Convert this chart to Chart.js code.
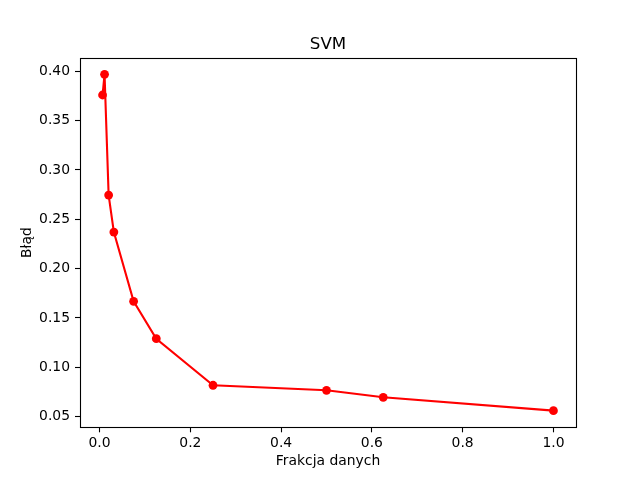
<!DOCTYPE html>
<html>
<head>
<meta charset="utf-8">
<script src="https://cdn.jsdelivr.net/npm/chart.js@4/dist/chart.umd.min.js"></script>
<style>
html,body{margin:0;padding:0;background:#fff;}
canvas{display:block;}
</style>
</head>
<body>
<canvas id="c" width="640" height="480"></canvas>
<script>
const xValues = [0.0066, 0.011, 0.02, 0.0315, 0.075, 0.125, 0.25, 0.5, 0.625, 1.0];
const yValues = [0.376, 0.397, 0.2746, 0.2371, 0.1669, 0.129, 0.0818, 0.0767, 0.0696, 0.0561];
const xTicks = [0.0, 0.2, 0.4, 0.6, 0.8, 1.0];
const yTicks = [0.05, 0.10, 0.15, 0.20, 0.25, 0.30, 0.35, 0.40];
const titleText = 'SVM';

const FONT = 'DejaVu Sans';

const frame = {
  id: 'frame',
  afterDraw(chart) {
    const a = chart.chartArea, ctx = chart.ctx;
    ctx.save();
    ctx.strokeStyle = '#000';
    ctx.lineWidth = 1.1;
    ctx.strokeRect(Math.round(a.left) + 0.5, Math.round(a.top) + 0.5,
                   Math.round(a.right - a.left), Math.round(a.bottom - a.top));
    ctx.fillStyle = '#000';
    ctx.font = '16.67px "' + FONT + '"';
    ctx.textAlign = 'center';
    ctx.textBaseline = 'alphabetic';
    ctx.fillText(titleText, (a.left + a.right) / 2, 48.5);
    ctx.restore();
  }
};

new Chart(document.getElementById('c'), {
  type: 'line',
  data: {
    datasets: [{
      data: xValues.map((x, i) => ({x: x, y: yValues[i]})),
      borderColor: '#ff0000',
      backgroundColor: '#ff0000',
      borderWidth: 2.1,
      pointRadius: 4.4,
      pointHoverRadius: 4.4,
      pointBorderWidth: 0,
      tension: 0,
      fill: false
    }]
  },
  options: {
    responsive: false,
    animation: false,
    devicePixelRatio: 1,
    layout: {padding: {top: 58, right: 64, bottom: 0, left: 0}},
    plugins: {
      legend: {display: false},
      tooltip: {enabled: false},
      title: {display: false}
    },
    scales: {
      x: {
        type: 'linear',
        min: -0.0431,
        max: 1.0497,
        afterBuildTicks: s => { s.ticks = xTicks.map(v => ({value: v})); },
        afterFit: s => { s.height = 52.7; },
        ticks: {
          color: '#000',
          font: {family: FONT, size: 13.9},
          padding: 3,
          maxRotation: 0,
          autoSkip: false,
          callback: v => Number(v).toFixed(1)
        },
        grid: {display: true, drawOnChartArea: false, drawTicks: true, tickLength: 5, color: '#000', tickWidth: 1.1},
        border: {display: false},
        title: {
          display: true,
          text: 'Frakcja danych',
          color: '#000',
          font: {family: FONT, size: 13.9},
          padding: {top: 0, bottom: 10}
        }
      },
      y: {
        type: 'linear',
        min: 0.0392,
        max: 0.4135,
        afterBuildTicks: s => { s.ticks = yTicks.map(v => ({value: v})); },
        afterFit: s => { s.width = 80; },
        ticks: {
          color: '#000',
          font: {family: FONT, size: 13.9},
          padding: 5,
          autoSkip: false,
          callback: v => Number(v).toFixed(2)
        },
        grid: {display: true, drawOnChartArea: false, drawTicks: true, tickLength: 5, color: '#000', tickWidth: 1.1},
        border: {display: false},
        title: {
          display: true,
          text: 'Błąd',
          color: '#000',
          font: {family: FONT, size: 13.9},
          padding: {top: 19, bottom: 0}
        }
      }
    }
  },
  plugins: [frame]
});
</script>
</body>
</html>
